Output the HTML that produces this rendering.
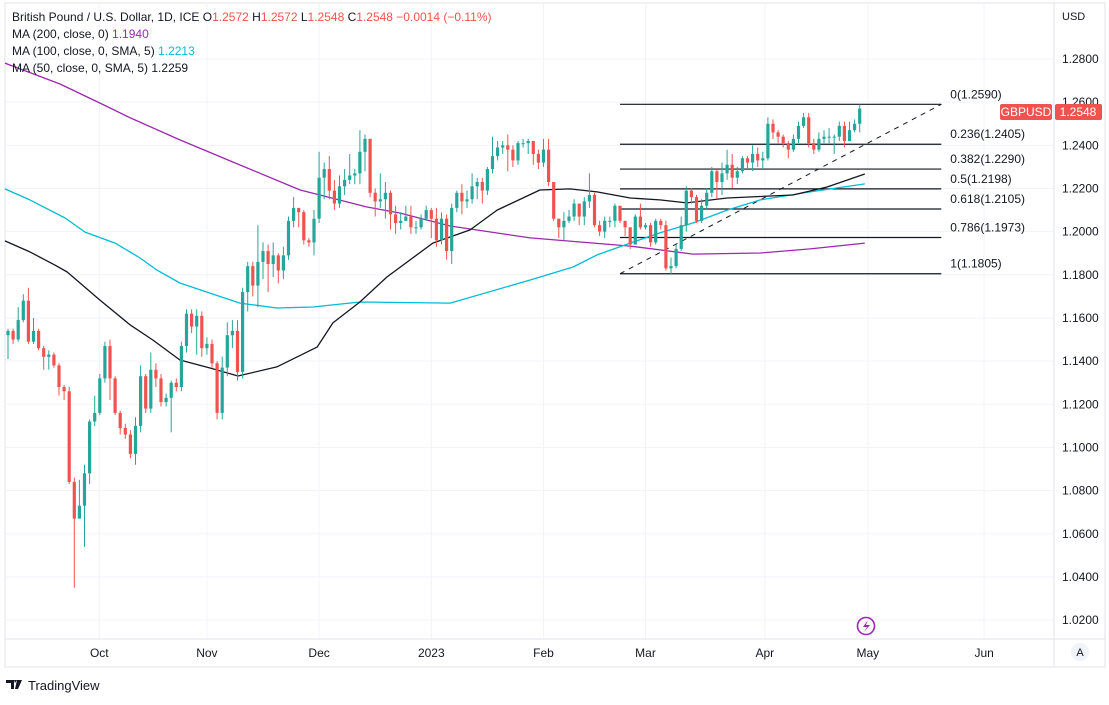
<!DOCTYPE html>
<html><head><meta charset="utf-8">
<style>
body{margin:0;width:1109px;height:700px;background:#fff;font-family:"Liberation Sans",sans-serif;overflow:hidden}
svg text{font-family:"Liberation Sans",sans-serif}
</style></head>
<body>
<svg id="chart" width="1109" height="700" xmlns="http://www.w3.org/2000/svg">
<rect x="5" y="3" width="1100" height="664" fill="#fff" stroke="#e0e3eb"/>
<g id="grid"></g>
<g id="fib"></g>
<g id="mas"></g>
<g id="candles"></g>
<line x1="1054" y1="3" x2="1054" y2="667" stroke="#e0e3eb"/>
<line x1="5" y1="639" x2="1105" y2="639" stroke="#e0e3eb"/>
<g id="yaxis"></g>
<g id="xaxis"></g>
<text x="1062" y="20" font-size="11" fill="#131722">USD</text>
<g>
<rect x="1000" y="104" width="52" height="16" rx="2" fill="#ef5350"/>
<text x="1026" y="116" font-size="12" fill="#fff" text-anchor="middle">GBPUSD</text>
<rect x="1055" y="104" width="47" height="16" rx="2" fill="#ef5350"/>
<text x="1078" y="116" font-size="12" fill="#fff" text-anchor="middle">1.2548</text>
</g>
<g>
<circle cx="866" cy="626" r="8.5" fill="#fff" stroke="#9c27b0" stroke-width="1.6"/>
<path d="M868 620 L863 627 L867 627 L864 632 L870 625 L866 625 Z" fill="#9c27b0"/>
</g>
<g>
<circle cx="1080" cy="652" r="9" fill="#f0f3fa"/>
<text x="1080" y="656" font-size="11" fill="#131722" text-anchor="middle">A</text>
</g>
<g font-size="12">
<text x="12" y="21" fill="#131722">British Pound / U.S. Dollar, 1D, ICE  <tspan fill="#131722">O</tspan><tspan fill="#ef5350">1.2572</tspan> <tspan fill="#131722">H</tspan><tspan fill="#ef5350">1.2572</tspan> <tspan fill="#131722">L</tspan><tspan fill="#ef5350">1.2548</tspan> <tspan fill="#131722">C</tspan><tspan fill="#ef5350">1.2548 −0.0014 (−0.11%)</tspan></text>
<text x="12" y="38" fill="#131722">MA (200, close, 0)  <tspan fill="#9c27b0">1.1940</tspan></text>
<text x="12" y="55" fill="#131722">MA (100, close, 0, SMA, 5)  <tspan fill="#00bcd4">1.2213</tspan></text>
<text x="12" y="72" fill="#131722">MA (50, close, 0, SMA, 5)  1.2259</text>
</g>
<g>
<path d="M6 680 h8 v9 h-3 v-6 h-5 z M14 680 h3 l-2 3z M17 680 h5 l-4 9 h-3 z" fill="#131722"/>
<text x="28" y="690" font-size="13" fill="#131722">TradingView</text>
</g>
</svg>
<script>
const closes=[1.154,1.150,1.159,1.168,1.149,1.154,1.146,1.142,1.143,1.138,1.128,1.126,1.084,1.067,1.073,1.088,1.112,1.116,1.132,1.147,1.132,1.116,1.109,1.106,1.097,1.110,1.133,1.118,1.136,1.132,1.121,1.123,1.130,1.128,1.147,1.162,1.156,1.161,1.146,1.148,1.139,1.116,1.137,1.152,1.154,1.135,1.172,1.184,1.175,1.186,1.191,1.185,1.189,1.182,1.189,1.205,1.211,1.209,1.196,1.195,1.206,1.225,1.229,1.219,1.213,1.221,1.224,1.226,1.227,1.237,1.243,1.218,1.214,1.215,1.218,1.208,1.204,1.205,1.207,1.202,1.202,1.206,1.210,1.206,1.196,1.206,1.191,1.211,1.218,1.214,1.215,1.221,1.223,1.219,1.229,1.235,1.239,1.240,1.238,1.233,1.241,1.241,1.242,1.236,1.232,1.238,1.223,1.206,1.202,1.205,1.207,1.213,1.207,1.214,1.217,1.203,1.200,1.205,1.205,1.212,1.205,1.202,1.194,1.207,1.202,1.203,1.195,1.205,1.203,1.183,1.184,1.192,1.203,1.219,1.216,1.205,1.212,1.218,1.228,1.223,1.227,1.231,1.225,1.228,1.234,1.232,1.236,1.233,1.234,1.250,1.246,1.244,1.241,1.238,1.243,1.249,1.253,1.241,1.238,1.243,1.244,1.244,1.244,1.249,1.242,1.247,1.250,1.257];
const highs=[1.155,1.155,1.165,1.171,1.174,1.160,1.155,1.147,1.145,1.144,1.139,1.129,1.128,1.086,1.085,1.092,1.113,1.124,1.134,1.149,1.150,1.133,1.117,1.111,1.108,1.114,1.138,1.134,1.144,1.139,1.134,1.125,1.131,1.132,1.149,1.164,1.164,1.164,1.163,1.151,1.150,1.140,1.142,1.158,1.159,1.159,1.174,1.186,1.186,1.203,1.195,1.194,1.195,1.190,1.193,1.207,1.216,1.211,1.210,1.197,1.210,1.237,1.232,1.235,1.224,1.226,1.229,1.236,1.229,1.247,1.245,1.243,1.220,1.227,1.223,1.219,1.212,1.209,1.212,1.212,1.205,1.208,1.212,1.211,1.211,1.209,1.208,1.213,1.219,1.222,1.219,1.227,1.225,1.225,1.230,1.244,1.242,1.242,1.245,1.240,1.242,1.243,1.243,1.242,1.238,1.243,1.243,1.223,1.206,1.209,1.210,1.215,1.210,1.216,1.227,1.218,1.205,1.207,1.207,1.213,1.212,1.205,1.202,1.208,1.213,1.204,1.204,1.206,1.206,1.205,1.188,1.194,1.207,1.221,1.220,1.217,1.215,1.220,1.230,1.229,1.232,1.238,1.236,1.230,1.235,1.235,1.240,1.239,1.237,1.253,1.252,1.247,1.245,1.242,1.245,1.251,1.255,1.255,1.243,1.246,1.247,1.248,1.245,1.251,1.251,1.251,1.252,1.259];
const lows=[1.141,1.148,1.149,1.158,1.148,1.148,1.145,1.136,1.136,1.137,1.124,1.122,1.083,1.035,1.070,1.054,1.083,1.110,1.115,1.130,1.122,1.115,1.106,1.104,1.095,1.092,1.107,1.116,1.116,1.128,1.119,1.119,1.107,1.126,1.126,1.144,1.153,1.143,1.142,1.143,1.137,1.113,1.113,1.133,1.146,1.131,1.132,1.163,1.170,1.165,1.178,1.172,1.179,1.176,1.178,1.187,1.202,1.202,1.194,1.193,1.189,1.204,1.215,1.215,1.210,1.211,1.217,1.222,1.222,1.222,1.228,1.216,1.207,1.211,1.206,1.201,1.199,1.201,1.205,1.199,1.199,1.201,1.205,1.197,1.193,1.194,1.187,1.185,1.209,1.208,1.211,1.213,1.215,1.213,1.217,1.227,1.233,1.236,1.228,1.230,1.231,1.239,1.236,1.231,1.229,1.230,1.221,1.205,1.197,1.196,1.204,1.205,1.203,1.203,1.211,1.202,1.198,1.197,1.202,1.202,1.204,1.198,1.192,1.194,1.201,1.201,1.193,1.194,1.201,1.182,1.180,1.183,1.191,1.200,1.213,1.204,1.204,1.210,1.216,1.215,1.217,1.224,1.220,1.222,1.227,1.229,1.228,1.230,1.229,1.233,1.243,1.241,1.239,1.234,1.237,1.241,1.248,1.239,1.236,1.237,1.241,1.241,1.236,1.242,1.239,1.242,1.246,1.246];
const firstOpen=1.152;
const ma50Idx=[-0.6,4.3,9.2,11.6,18,24,28.4,33.7,39.6,45.1,52.7,60.6,63.7,69,74.3,83.3,90.6,95.9,104.3,110.2,115.5,122,127.8,133.1,141,153.9,160.6,168];
const ma50Val=[1.1957,1.1906,1.1845,1.1813,1.1683,1.1567,1.1498,1.1405,1.1368,1.1331,1.1373,1.1465,1.1577,1.1674,1.1790,1.1947,1.2008,1.2100,1.2193,1.2198,1.2184,1.2156,1.2147,1.2133,1.2156,1.2170,1.2207,1.2267];
const ma100Idx=[-0.6,4.3,11.2,15.1,21,25.9,29.2,33.7,39,45.5,52.7,59.8,69,86.7,102.4,110.8,115.5,122,127.8,134.3,141,147.5,157.3,168];
const ma100Val=[1.2198,1.2147,1.2063,1.1998,1.1947,1.1878,1.1822,1.1762,1.1720,1.1669,1.1646,1.1651,1.1674,1.1669,1.1776,1.1836,1.1892,1.1947,1.1994,1.2040,1.2100,1.2147,1.2184,1.2221];
const ma200Idx=[-0.6,10.2,18,24,33.7,45.5,57.3,70.4,76.9,86.7,102.4,112.2,122,134.3,147.5,157.3,168];
const ma200Val=[1.2781,1.2684,1.2596,1.2527,1.2425,1.2309,1.2193,1.2114,1.2086,1.2026,1.1971,1.1952,1.1933,1.1896,1.1901,1.1920,1.1947];
const priceTicks=[1.28,1.26,1.24,1.22,1.20,1.18,1.16,1.14,1.12,1.10,1.08,1.06,1.04,1.02];
const monthLabels=["Oct","Nov","Dec","2023","Feb","Mar","Apr","May","Jun"];
const monthIdx=[17.9,39,61,83,105,125,148.4,168.6,191.4];
const fibRatios=["0","0.236","0.382","0.5","0.618","0.786","1"];
const fibLevels=[1.2590,1.2405,1.2290,1.2198,1.2105,1.1973,1.1805];
const fibStartIdx=120, fibEndIdx=183;

const NS="http://www.w3.org/2000/svg";
const Y=p=>59+(1.28-p)*2158;
const X=i=>8+i*5.1;
function mk(tag,attrs,parent){const e=document.createElementNS(NS,tag);for(const k in attrs)e.setAttribute(k,attrs[k]);parent.appendChild(e);return e;}
const grid=document.getElementById('grid'),yax=document.getElementById('yaxis'),xax=document.getElementById('xaxis');
priceTicks.forEach(p=>{
  const l=mk('line',{x1:5,x2:1054,y1:Y(p),y2:Y(p),stroke:'#f0f3fa'},grid);
  
  
  const t=mk('text',{x:1062,y:Y(p)+4,'font-size':12,fill:'#131722'},yax);
  t.textContent=p.toFixed(4);
  
  
});
monthLabels.forEach((m,k)=>{
  const x=X(monthIdx[k]);
  const l=mk('line',{x1:x,x2:x,y1:3,y2:639,stroke:'#f0f3fa'},grid);
  
  
  const t=mk('text',{x:x,y:657,'font-size':12,fill:'#131722','text-anchor':'middle'},xax);
  t.textContent=m;
  
  
});
const fib=document.getElementById('fib');
fibLevels.forEach((v,k)=>{
  const l=mk('line',{x1:X(fibStartIdx),x2:X(fibEndIdx),y1:Y(v),y2:Y(v),stroke:'#131722','stroke-width':1.2},fib);
  
  
  const t=mk('text',{x:X(fibEndIdx)+9,y:Y(v)-6,'font-size':12,fill:'#131722'},fib);
  t.textContent=fibRatios[k]+'('+v.toFixed(4)+')';
  
  
});
const tl=mk('line',{x1:X(fibStartIdx),y1:Y(fibLevels[6]),x2:X(fibEndIdx),y2:Y(fibLevels[0]),stroke:'#131722','stroke-dasharray':'5,5'},fib);


const mas=document.getElementById('mas');
[[ma200Idx,ma200Val,'#9c27b0','ma200-line'],[ma100Idx,ma100Val,'#00bcd4','ma100-line'],[ma50Idx,ma50Val,'#131722','ma50-line']].forEach(([ix,vs,c,n])=>{
  const pts=ix.map((i,k)=>X(i).toFixed(1)+','+Y(vs[k]).toFixed(1)).join(' ');
  const pl=mk('polyline',{points:pts,fill:'none',stroke:c,'stroke-width':1.3,'stroke-linejoin':'round'},mas);
  
  
});
const cg=document.getElementById('candles');
closes.forEach((c,i)=>{
  const o=i===0?firstOpen:closes[i-1];
  const up=c>=o,col=up?'#26a69a':'#ef5350',x=X(i);
  const g=mk('g',{},cg);
  
  
  mk('line',{x1:x,x2:x,y1:Y(highs[i]),y2:Y(lows[i]),stroke:col,'stroke-width':1},g);
  const top=Y(Math.max(o,c)),bot=Y(Math.min(o,c));
  mk('rect',{x:x-1.6,y:top,width:3.2,height:Math.max(1,bot-top),fill:col},g);
});
</script>
</body></html>
